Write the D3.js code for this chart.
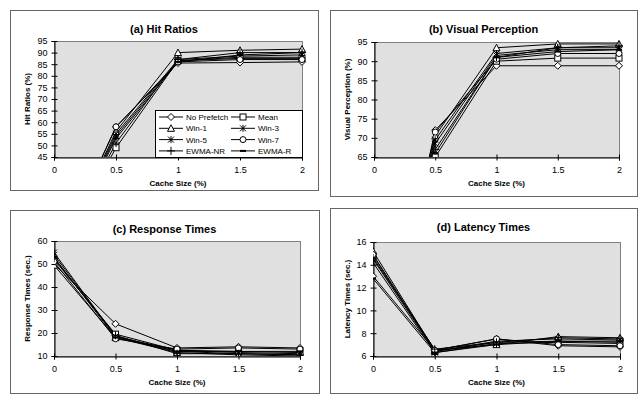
<!DOCTYPE html>
<html>
<head>
<meta charset="utf-8">
<script src="https://cdn.jsdelivr.net/npm/d3@7"></script>
<style>
  body { margin: 0; background: #fff; }
  svg { font-family: "Liberation Sans", Arial, sans-serif; }
</style>
</head>
<body>
<div id="chart"></div>
<script>
// cache sizes (%)
const cacheSizes = [0, 0.5, 1, 1.5, 2];
const seriesNames = ["No Prefetch", "Mean", "Win-1", "Win-3", "Win-5", "Win-7", "EWMA-NR", "EWMA-R"];
const markerTypes = ["diamond", "square", "triangle", "star", "star", "circle", "plus", "dash"];

// (a) hit ratios (%)
const hitRatios = [
  [0, 58, 85.5, 85.7, 86],
  [0, 49, 86.5, 87.5, 87.5],
  [0, 56, 90, 91, 91.5],
  [0, 55, 87, 88.5, 89],
  [0, 54, 86.5, 88, 88],
  [0, 58, 86, 87, 87],
  [0, 51, 87, 90, 90],
  [0, 53, 86, 89, 90]
];
// (b) visual perception (%)
const visualPerception = [
  [0, 72, 88.8, 88.8, 88.8],
  [0, 65, 90, 90.8, 90.8],
  [0, 70.5, 93.5, 94.5, 94.5],
  [0, 69.5, 92, 93.5, 93.5],
  [0, 68.5, 91.5, 93, 93],
  [0, 71.5, 90.5, 92, 92],
  [0, 67, 91, 93.5, 94],
  [0, 66, 91, 92.5, 93]
];
// (c) response times (sec.)
const responseTimes = [
  [50, 24, 13.5, 14, 13.5],
  [52, 19.5, 12.5, 12, 11.5],
  [49.5, 18, 11.5, 10.5, 10],
  [55, 18.5, 12, 11, 10.5],
  [54, 18.5, 12.5, 11.5, 11],
  [51, 17.5, 13, 13.5, 13],
  [52.5, 19, 11, 11, 10.5],
  [53, 18, 12, 12, 12]
];
// (d) latency times (sec.)
const latencyTimes = [
  [13, 6.5, 7.5, 6.9, 6.8],
  [14.8, 6.4, 7.2, 7.3, 7.2],
  [15.2, 6.5, 7.0, 7.7, 7.6],
  [14.5, 6.4, 7.3, 7.5, 7.4],
  [14.2, 6.3, 7.1, 7.2, 7.1],
  [14.9, 6.5, 7.5, 7.0, 6.9],
  [14.6, 6.6, 7.2, 7.6, 7.5],
  [12.8, 6.3, 7.0, 7.3, 7.3]
];

const xTicks = [0, 0.5, 1, 1.5, 2];

const panels = [
  { title: "(a) Hit Ratios", ylab: "Hit Ratios (%)", data: hitRatios,
    yDomain: [45, 95], yTicks: d3.range(45, 96, 5),
    box: [10, 10, 318, 190], plot: [54, 41, 302, 157], legend: true },
  { title: "(b) Visual Perception", ylab: "Visual Perception (%)", data: visualPerception,
    yDomain: [65, 95], yTicks: d3.range(65, 96, 5),
    box: [330, 10, 637, 196], plot: [374, 42, 619, 157] },
  { title: "(c) Response Times", ylab: "Response Times (sec.)", data: responseTimes,
    yDomain: [10, 60], yTicks: d3.range(10, 61, 10),
    box: [10, 210, 319, 393], plot: [54, 241, 300, 356] },
  { title: "(d) Latency Times", ylab: "Latency Times (sec.)", data: latencyTimes,
    yDomain: [6, 16], yTicks: d3.range(6, 17, 2),
    box: [330, 208, 637, 393], plot: [373, 242, 620, 356] }
];

const svg = d3.select("#chart").append("svg")
  .attr("width", 644).attr("height", 397);

// marker drawing
function drawMarker(g, type) {
  const s = 3;
  if (type === "diamond") {
    g.append("path").attr("d", `M0,${-s - 0.5}L${s + 0.5},0L0,${s + 0.5}L${-s - 0.5},0Z`)
      .attr("fill", "#fff").attr("stroke", "#000");
  } else if (type === "square") {
    g.append("rect").attr("x", -s).attr("y", -s).attr("width", 2 * s).attr("height", 2 * s)
      .attr("fill", "#fff").attr("stroke", "#000");
  } else if (type === "triangle") {
    g.append("path").attr("d", `M0,${-s - 0.5}L${s + 0.5},${s}L${-s - 0.5},${s}Z`)
      .attr("fill", "#fff").attr("stroke", "#000");
  } else if (type === "circle") {
    g.append("circle").attr("r", s).attr("fill", "#fff").attr("stroke", "#000");
  } else if (type === "star") {
    g.append("path").attr("d", `M${-s},${-s}L${s},${s}M${-s},${s}L${s},${-s}M0,${-s - 0.5}V${s + 0.5}`)
      .attr("stroke", "#000").attr("fill", "none");
  } else if (type === "plus") {
    g.append("path").attr("d", `M${-s - 1},0H${s + 1}M0,${-s - 1}V${s + 1}`)
      .attr("stroke", "#000").attr("fill", "none");
  } else if (type === "dash") {
    g.append("rect").attr("x", -s).attr("y", -1).attr("width", 2 * s).attr("height", 2)
      .attr("fill", "#000");
  }
}

panels.forEach((p, pi) => {
  const [bx0, by0, bx1, by1] = p.box;
  const [px0, py0, px1, py1] = p.plot;
  const g = svg.append("g");

  g.append("rect")
    .attr("x", bx0 + 0.5).attr("y", by0 + 0.5)
    .attr("width", bx1 - bx0).attr("height", by1 - by0)
    .attr("fill", "#fff").attr("stroke", "#666");

  const x = d3.scaleLinear().domain([0, 2]).range([px0, px1]);
  const y = d3.scaleLinear().domain(p.yDomain).range([py1, py0]);

  // plot area
  g.append("rect")
    .attr("x", px0 + 0.5).attr("y", py0 + 0.5)
    .attr("width", px1 - px0).attr("height", py1 - py0)
    .attr("fill", "#e0e0e0").attr("stroke", "#808080");

  const clipId = "clip" + pi;
  g.append("clipPath").attr("id", clipId)
    .append("rect").attr("x", px0).attr("y", py0 - 4)
    .attr("width", px1 - px0 + 6).attr("height", py1 - py0 + 4);

  // axes
  const yAxis = g.append("g").attr("transform", `translate(${px0 + 0.5},0)`)
    .call(d3.axisLeft(y).tickValues(p.yTicks).tickSize(3).tickPadding(4));
  yAxis.select(".domain").attr("stroke", "#000");
  yAxis.selectAll(".tick line").attr("x2", 3).attr("x1", -3);
  yAxis.selectAll("text").attr("font-size", 9).attr("font-family", "Liberation Sans, Arial");

  const xAxis = g.append("g").attr("transform", `translate(0,${py1 + 0.5})`)
    .call(d3.axisBottom(x).tickValues(xTicks).tickSize(3).tickPadding(6)
      .tickFormat(d => String(d)));
  xAxis.select(".domain").attr("stroke", "#000");
  xAxis.selectAll(".tick line").attr("y1", -3).attr("y2", 3);
  xAxis.selectAll("text").attr("font-size", 9).attr("font-family", "Liberation Sans, Arial");

  // title and labels
  g.append("text")
    .attr("x", (bx0 + bx1) / 2).attr("y", by0 + 23)
    .attr("text-anchor", "middle")
    .attr("font-size", 11).attr("font-weight", "bold")
    .text(p.title);

  g.append("text")
    .attr("x", (px0 + px1) / 2).attr("y", py1 + 29)
    .attr("text-anchor", "middle")
    .attr("font-size", 8).attr("font-weight", "bold")
    .text("Cache Size (%)");

  g.append("text")
    .attr("transform", `translate(${bx0 + 20},${(py0 + py1) / 2}) rotate(-90)`)
    .attr("text-anchor", "middle")
    .attr("font-size", 8).attr("font-weight", "bold")
    .text(p.ylab);

  // series
  const line = d3.line().x((d, i) => x(cacheSizes[i])).y(d => y(d));
  const series = g.append("g").attr("clip-path", `url(#${clipId})`);
  p.data.forEach((vals, si) => {
    series.append("path")
      .attr("d", line(vals))
      .attr("fill", "none").attr("stroke", "#000").attr("stroke-width", 1);
  });
  p.data.forEach((vals, si) => {
    vals.forEach((v, i) => {
      if (v < p.yDomain[0] || v > p.yDomain[1]) return;
      const m = series.append("g").attr("transform", `translate(${x(cacheSizes[i])},${y(v)})`);
      drawMarker(m, markerTypes[si]);
    });
  });

  // legend
  if (p.legend) {
    const lx = 155, ly = 110, lw = 147, lh = 47;
    const lg = g.append("g");
    lg.append("rect").attr("x", lx + 0.5).attr("y", ly + 0.5)
      .attr("width", lw).attr("height", lh)
      .attr("fill", "#fff").attr("stroke", "#000");
    seriesNames.forEach((name, i) => {
      const col = i % 2, row = Math.floor(i / 2);
      const x0 = lx + 4 + col * 72;
      const yy = ly + 7 + row * 11.3;
      lg.append("line").attr("x1", x0).attr("x2", x0 + 24)
        .attr("y1", yy).attr("y2", yy).attr("stroke", "#000");
      const m = lg.append("g").attr("transform", `translate(${x0 + 12},${yy})`);
      drawMarker(m, markerTypes[i]);
      lg.append("text").attr("x", x0 + 27).attr("y", yy + 3)
        .attr("font-size", 8).text(name);
    });
  }
});
</script>
</body>
</html>
